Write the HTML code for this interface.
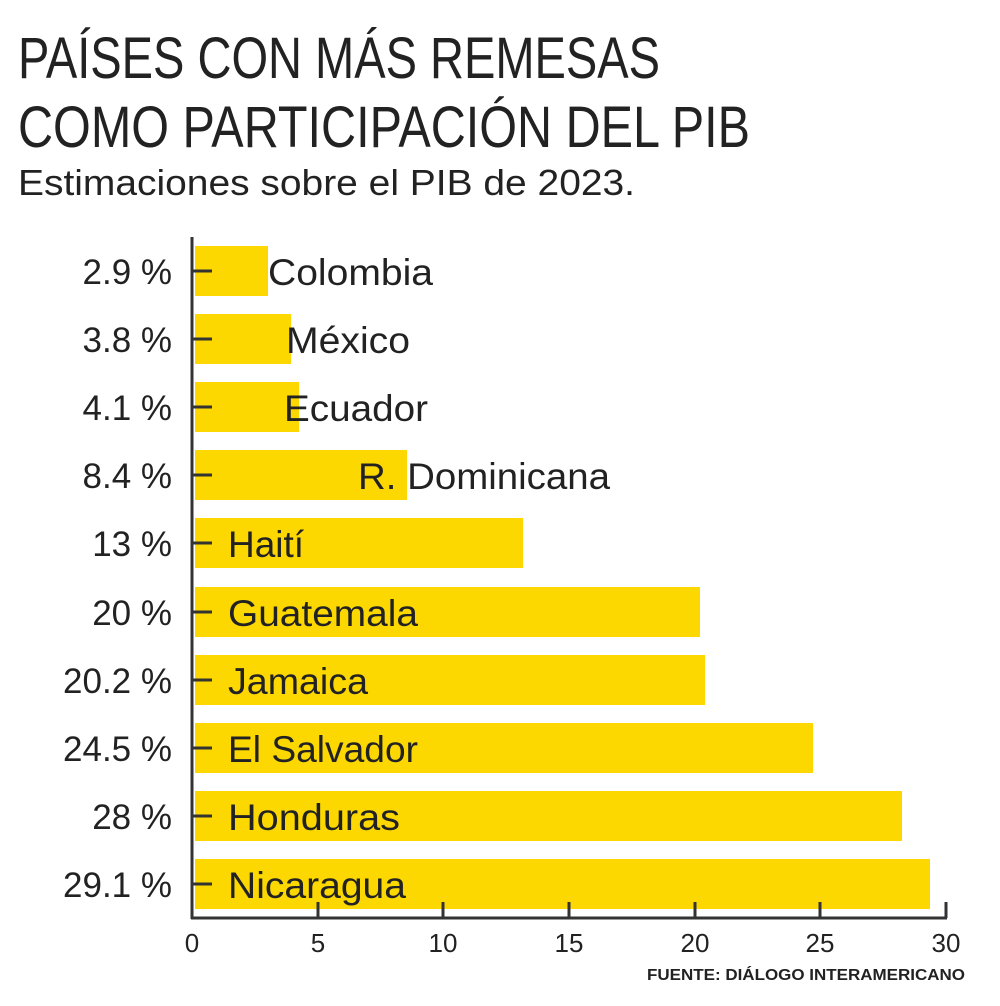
<!DOCTYPE html>
<html><head><meta charset="utf-8"><style>
body{margin:0;background:#fff}
svg{display:block;font-family:"Liberation Sans",sans-serif}
</style></head><body>
<svg width="1000" height="1006" viewBox="0 0 1000 1006">
<rect width="1000" height="1006" fill="#fff"/>
<text x="18" y="78" font-size="58" fill="#222" textLength="642" lengthAdjust="spacingAndGlyphs">PAÍSES CON MÁS REMESAS</text>
<text x="18" y="147" font-size="58" fill="#222" textLength="732" lengthAdjust="spacingAndGlyphs">COMO PARTICIPACIÓN DEL PIB</text>
<text x="18" y="195" font-size="36" fill="#222" textLength="617" lengthAdjust="spacingAndGlyphs">Estimaciones sobre el PIB de 2023.</text>
<g fill="#fcd800">
<rect x="195" y="246" width="73" height="50"/>
<rect x="195" y="314" width="96" height="50"/>
<rect x="195" y="382" width="104" height="50"/>
<rect x="195" y="450" width="212" height="50"/>
<rect x="195" y="518" width="328" height="50"/>
<rect x="195" y="587" width="505" height="50"/>
<rect x="195" y="655" width="510" height="50"/>
<rect x="195" y="723" width="618" height="50"/>
<rect x="195" y="791" width="707" height="50"/>
<rect x="195" y="859" width="735" height="50"/>
</g>
<g stroke="#333" stroke-width="3">
<line x1="192" y1="237" x2="192" y2="919"/>
<line x1="191" y1="918" x2="947" y2="918"/>
<line x1="192" y1="271" x2="212" y2="271"/>
<line x1="192" y1="339" x2="212" y2="339"/>
<line x1="192" y1="407" x2="212" y2="407"/>
<line x1="192" y1="475" x2="212" y2="475"/>
<line x1="192" y1="543" x2="212" y2="543"/>
<line x1="192" y1="612" x2="212" y2="612"/>
<line x1="192" y1="680" x2="212" y2="680"/>
<line x1="192" y1="748" x2="212" y2="748"/>
<line x1="192" y1="816" x2="212" y2="816"/>
<line x1="192" y1="884" x2="212" y2="884"/>
<line x1="318" y1="902" x2="318" y2="918"/>
<line x1="443" y1="902" x2="443" y2="918"/>
<line x1="569" y1="902" x2="569" y2="918"/>
<line x1="695" y1="902" x2="695" y2="918"/>
<line x1="820" y1="902" x2="820" y2="918"/>
<line x1="946" y1="902" x2="946" y2="918"/>
</g>
<g font-size="35" fill="#222" text-anchor="end">
<text x="172" y="284">2.9 %</text>
<text x="172" y="352">3.8 %</text>
<text x="172" y="420">4.1 %</text>
<text x="172" y="488">8.4 %</text>
<text x="172" y="556">13 %</text>
<text x="172" y="625">20 %</text>
<text x="172" y="693">20.2 %</text>
<text x="172" y="761">24.5 %</text>
<text x="172" y="829">28 %</text>
<text x="172" y="897">29.1 %</text>
</g>
<g font-size="37" fill="#222">
<text x="268" y="285" textLength="165" lengthAdjust="spacingAndGlyphs">Colombia</text>
<text x="286" y="353" textLength="124" lengthAdjust="spacingAndGlyphs">México</text>
<text x="284" y="421" textLength="144" lengthAdjust="spacingAndGlyphs">Ecuador</text>
<text x="358" y="489" textLength="252" lengthAdjust="spacingAndGlyphs">R. Dominicana</text>
<text x="228" y="557">Haití</text>
<text x="228" y="626" textLength="190" lengthAdjust="spacingAndGlyphs">Guatemala</text>
<text x="228" y="694" textLength="140" lengthAdjust="spacingAndGlyphs">Jamaica</text>
<text x="228" y="762" textLength="190" lengthAdjust="spacingAndGlyphs">El Salvador</text>
<text x="228" y="830" textLength="172" lengthAdjust="spacingAndGlyphs">Honduras</text>
<text x="228" y="898" textLength="178" lengthAdjust="spacingAndGlyphs">Nicaragua</text>
</g>
<g font-size="26" fill="#222" text-anchor="middle">
<text x="192" y="952">0</text>
<text x="318" y="952">5</text>
<text x="443" y="952">10</text>
<text x="569" y="952">15</text>
<text x="695" y="952">20</text>
<text x="820" y="952">25</text>
<text x="946" y="952">30</text>
</g>
<text x="965" y="980" font-size="16" font-weight="bold" fill="#222" text-anchor="end" textLength="318" lengthAdjust="spacingAndGlyphs">FUENTE: DIÁLOGO INTERAMERICANO</text>
</svg>
</body></html>
